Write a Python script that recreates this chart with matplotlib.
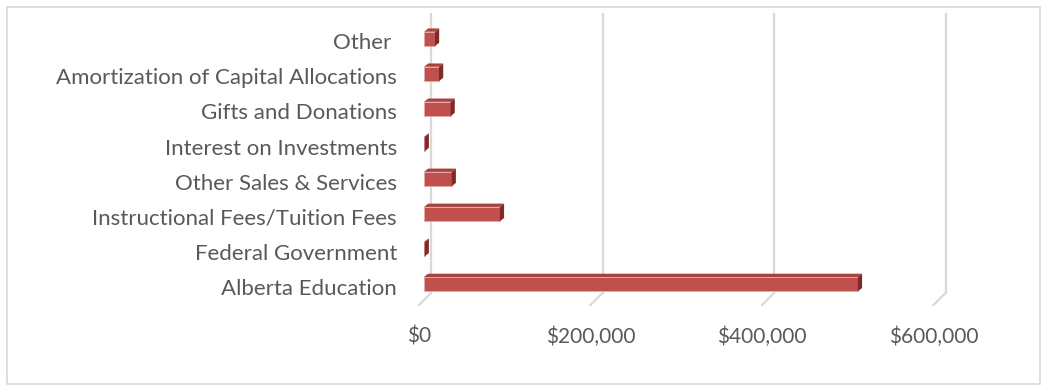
import matplotlib.pyplot as plt
from matplotlib.patches import Polygon, Rectangle
from matplotlib.transforms import ScaledTranslation

# data
categories = ["Alberta Education", "Federal Government", "Instructional Fees/Tuition Fees",
              "Other Sales & Services", "Interest on Investments", "Gifts and Donations",
              "Amortization of Capital Allocations", "Other "]
values = [506000, 800, 88500, 32300, 800, 31000, 17500, 12800]
ticks = [0, 200000, 400000, 600000]
tick_labels = ["$0", "$200,000", "$400,000", "$600,000"]

W, H, DPI = 1047, 386, 100
front = "#c0504d"
top_col = "#a8423f"
side_col = "#7e2b29"
grid_col = "#d9d9d9"
text_col = "#595959"

plt.rcParams["font.family"] = ["Lato", "DejaVu Sans"]

fig = plt.figure(figsize=(W / DPI, H / DPI), dpi=DPI)

# axes placed in pixels: bar plane $0 at x=424, 171.5 px per $200k
x0_px, y0_px = 424, 84.3
xmax = 620000
ax_w = xmax * 171.5 / 200000
ax_h = 8 * 35.04
ax = fig.add_axes([x0_px / W, y0_px / H, ax_w / W, ax_h / H])
ax.set_xlim(0, xmax)
ax.set_ylim(-0.5, 7.5)

sx = xmax / ax_w   # data per px
sy = 8 / ax_h

# back wall gridlines + floor feet
g_top = (H - 13.5 - y0_px) * sy - 0.5
g_bot = (H - 293 - y0_px) * sy - 0.5
f_bot = (H - 305 - y0_px) * sy - 0.5
for t in ticks:
    ax.plot([t + 7 * sx, t + 7 * sx], [g_bot, g_top], color=grid_col, lw=1.6,
            clip_on=False, zorder=1)
    ax.plot([t + 7 * sx, t - 5 * sx], [g_bot, f_bot], color=grid_col, lw=1.6,
            clip_on=False, zorder=1)

# 3d looking bars
bh = 0.41
dx, dy = 4.2 * sx, 3.3 * sy
ypos = list(range(len(categories)))
ax.barh(ypos, values, height=bh, color=front, edgecolor="#e8a9a7", linewidth=0.6, zorder=3)
for y, v in zip(ypos, values):
    yt = y + bh / 2
    yb = y - bh / 2
    ax.add_patch(Polygon([(0, yt), (v, yt), (v + dx, yt + dy), (dx, yt + dy)],
                         closed=True, facecolor=top_col, edgecolor="none", zorder=3))
    ax.add_patch(Polygon([(v, yb), (v + dx, yb + dy), (v + dx, yt + dy), (v, yt)],
                         closed=True, facecolor=side_col, edgecolor="none", zorder=3))

ax.set_yticks(ypos)
ax.set_yticklabels(categories, fontsize=16, color=text_col)
ax.set_xticks(ticks)
ax.set_xticklabels(tick_labels, fontsize=15, color=text_col)
ax.tick_params(axis="y", length=0, pad=19.5)
ax.tick_params(axis="x", length=0, pad=18)
shift = ScaledTranslation(-5 / DPI, 0, fig.dpi_scale_trans)
for lab in ax.get_xticklabels():
    lab.set_transform(lab.get_transform() + shift)
down = ScaledTranslation(0, -2.5 / DPI, fig.dpi_scale_trans)
for lab in ax.get_yticklabels():
    lab.set_transform(lab.get_transform() + down)
for s in ax.spines.values():
    s.set_visible(False)
ax.patch.set_visible(False)

# chart border
fig.patches.append(Rectangle((7 / W, 2 / H), 1033 / W, 377 / H, transform=fig.transFigure,
                             facecolor="none", edgecolor=grid_col, lw=1.2))

fig.savefig("out.png", dpi=DPI)
